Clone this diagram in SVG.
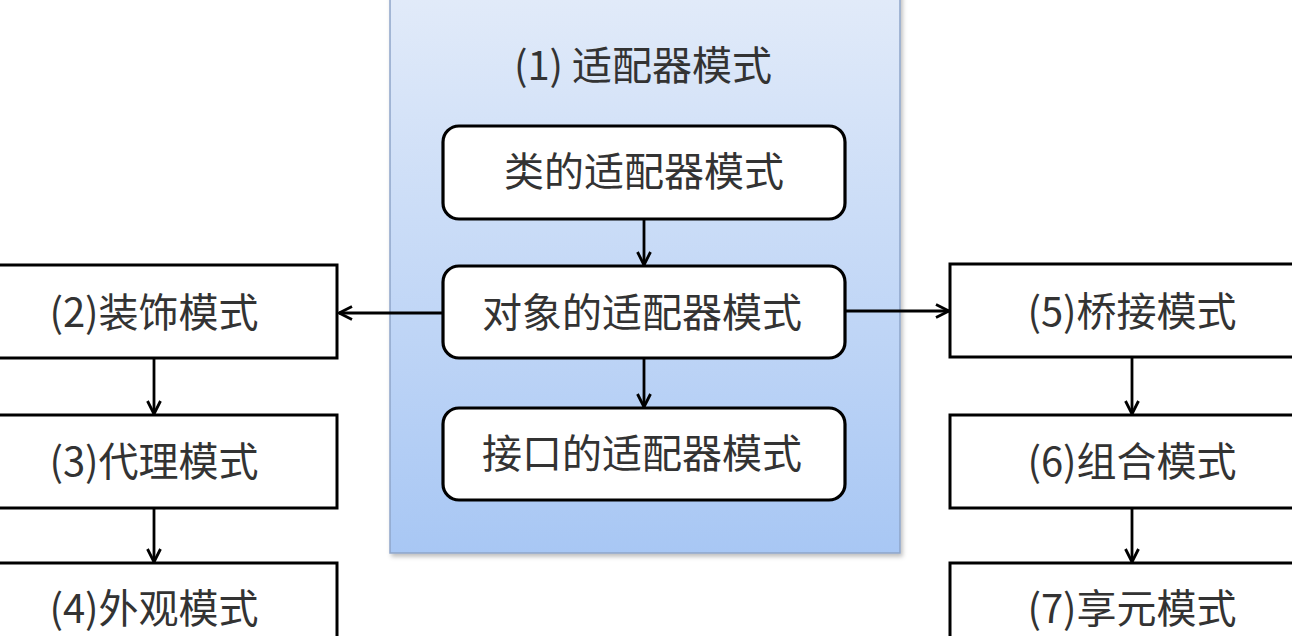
<svg xmlns="http://www.w3.org/2000/svg" width="1292" height="636" viewBox="0 0 1292 636">
<defs>
<linearGradient id="bg" x1="0" y1="0" x2="0" y2="1">
<stop offset="0" stop-color="#e2ebf9"/>
<stop offset="1" stop-color="#a8c7f4"/>
</linearGradient>
<marker id="arr" viewBox="0 0 16 16" refX="14.5" refY="8" markerWidth="16" markerHeight="16" markerUnits="userSpaceOnUse" orient="auto">
<path d="M1.5,1.5 L14.5,8 L1.5,14.5" fill="none" stroke="#000" stroke-width="2.8"/>
</marker>
<filter id="sh" x="-5%" y="-5%" width="110%" height="110%">
<feDropShadow dx="2" dy="3" stdDeviation="2" flood-color="#000" flood-opacity="0.25"/>
</filter>
</defs>
<style>
.t{font-family:"Noto Sans CJK SC","Noto Sans",sans-serif;font-size:40px;fill:#333;text-anchor:middle;dominant-baseline:central}
.rb{fill:#fff;stroke:#000;stroke-width:3.2}
.sb{fill:#fff;stroke:#000;stroke-width:3}
.c{fill:none;stroke:#000;stroke-width:2.8;marker-end:url(#arr)}
</style>
<rect width="1292" height="636" fill="#fff"/>
<g id="adapter">
<rect x="390" y="-10" width="510" height="563" fill="url(#bg)" stroke="#8ea5c9" stroke-width="1.5" filter="url(#sh)"/>
<text class="t" x="643" y="63">(1) 适配器模式</text>
</g>
<g id="class-adapter">
<rect class="rb" x="443" y="126" width="402" height="93" rx="16"/>
<text class="t" x="644" y="169">类的适配器模式</text>
</g>
<g id="object-adapter">
<rect class="rb" x="443" y="266" width="402" height="92" rx="16"/>
<text class="t" x="642" y="310">对象的适配器模式</text>
</g>
<g id="interface-adapter">
<rect class="rb" x="443" y="408" width="402" height="92" rx="16"/>
<text class="t" x="642" y="451">接口的适配器模式</text>
</g>
<g id="decorator">
<rect class="sb" x="-10" y="265" width="347" height="93"/>
<text class="t" x="154" y="310">(2)装饰模式</text>
</g>
<g id="proxy">
<rect class="sb" x="-10" y="415" width="347" height="93"/>
<text class="t" x="154" y="459">(3)代理模式</text>
</g>
<g id="facade">
<rect class="sb" x="-10" y="563" width="347" height="90"/>
<text class="t" x="154" y="606">(4)外观模式</text>
</g>
<g id="bridge">
<rect class="sb" x="950" y="264" width="352" height="93"/>
<text class="t" x="1132" y="309">(5)桥接模式</text>
</g>
<g id="composite">
<rect class="sb" x="950" y="415" width="352" height="93"/>
<text class="t" x="1132" y="459">(6)组合模式</text>
</g>
<g id="flyweight">
<rect class="sb" x="950" y="563" width="352" height="90"/>
<text class="t" x="1132" y="606">(7)享元模式</text>
</g>
<g id="connectors">
<line class="c" x1="644" y1="220" x2="644" y2="265"/>
<line class="c" x1="644" y1="359" x2="644" y2="407"/>
<line class="c" x1="442" y1="313" x2="339" y2="313"/>
<line class="c" x1="846" y1="311" x2="949" y2="311"/>
<line class="c" x1="154" y1="359" x2="154" y2="414"/>
<line class="c" x1="154" y1="509" x2="154" y2="562"/>
<line class="c" x1="1132" y1="358" x2="1132" y2="414"/>
<line class="c" x1="1132" y1="509" x2="1132" y2="562"/>
</g>
</svg>
